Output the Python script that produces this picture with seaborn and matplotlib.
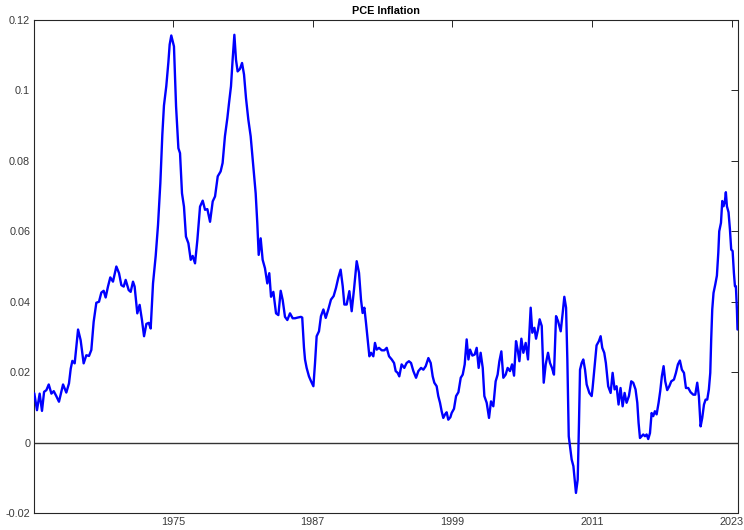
import matplotlib
matplotlib.use("Agg")
import matplotlib.pyplot as plt
import seaborn as sns
import pandas as pd

years = [
    1963.08, 1963.31, 1963.54, 1963.74, 1963.92, 1964.12, 1964.32, 1964.55, 1964.75, 1964.97,
    1965.20, 1965.55, 1965.83, 1966.06, 1966.21, 1966.35, 1966.55, 1966.84, 1967.06, 1967.32,
    1967.55, 1967.78, 1967.98, 1968.18, 1968.41, 1968.64, 1968.84, 1969.04, 1969.21, 1969.41,
    1969.61, 1969.84, 1970.13, 1970.36, 1970.56, 1970.76, 1970.93, 1971.19, 1971.36, 1971.56,
    1971.70, 1971.93, 1972.13, 1972.33, 1972.51, 1972.71, 1972.91, 1973.08, 1973.28, 1973.51,
    1973.71, 1973.91, 1974.08, 1974.22, 1974.42, 1974.60, 1974.71, 1974.85, 1975.08, 1975.26,
    1975.46, 1975.60, 1975.77, 1975.94, 1976.11, 1976.32, 1976.52, 1976.69, 1976.89, 1977.09,
    1977.32, 1977.55, 1977.75, 1977.95, 1978.18, 1978.41, 1978.61, 1978.84, 1979.09, 1979.26,
    1979.46, 1979.67, 1979.81, 1979.98, 1980.12, 1980.27, 1980.41, 1980.55, 1980.75, 1980.93,
    1981.10, 1981.27, 1981.47, 1981.67, 1981.90, 1982.10, 1982.24, 1982.36, 1982.53, 1982.70,
    1982.90, 1983.10, 1983.27, 1983.42, 1983.62, 1983.85, 1984.05, 1984.25, 1984.42, 1984.62,
    1984.82, 1985.05, 1985.28, 1985.48, 1985.71, 1985.99, 1986.10, 1986.25, 1986.34, 1986.48,
    1986.68, 1986.86, 1987.06, 1987.20, 1987.34, 1987.54, 1987.71, 1987.92, 1988.12, 1988.34,
    1988.57, 1988.80, 1989.00, 1989.20, 1989.40, 1989.58, 1989.72, 1989.92, 1990.15, 1990.35,
    1990.55, 1990.78, 1990.98, 1991.15, 1991.29, 1991.44, 1991.58, 1991.72, 1991.87, 1992.01,
    1992.21, 1992.35, 1992.50, 1992.70, 1992.93, 1993.16, 1993.36, 1993.56, 1993.79, 1993.99,
    1994.13, 1994.30, 1994.44, 1994.64, 1994.87, 1995.07, 1995.27, 1995.45, 1995.65, 1995.88,
    1996.08, 1996.31, 1996.51, 1996.71, 1996.94, 1997.14, 1997.31, 1997.45, 1997.65, 1997.79,
    1997.94, 1998.08, 1998.22, 1998.37, 1998.51, 1998.65, 1998.83, 1998.94, 1999.14, 1999.32,
    1999.52, 1999.72, 1999.89, 2000.06, 2000.23, 2000.38, 2000.52, 2000.72, 2000.92, 2001.09,
    2001.26, 2001.43, 2001.61, 2001.75, 2001.95, 2002.15, 2002.32, 2002.52, 2002.72, 2002.89,
    2003.04, 2003.21, 2003.38, 2003.58, 2003.75, 2003.95, 2004.13, 2004.30, 2004.47, 2004.61,
    2004.76, 2004.93, 2005.10, 2005.30, 2005.50, 2005.62, 2005.73, 2005.87, 2006.05, 2006.19,
    2006.36, 2006.50, 2006.68, 2006.85, 2007.02, 2007.22, 2007.39, 2007.56, 2007.73, 2007.91,
    2008.08, 2008.31, 2008.48, 2008.62, 2008.77, 2008.88, 2009.00, 2009.11, 2009.25, 2009.40,
    2009.51, 2009.62, 2009.77, 2009.88, 2009.97, 2010.11, 2010.25, 2010.40, 2010.54, 2010.77,
    2010.97, 2011.05, 2011.22, 2011.39, 2011.59, 2011.74, 2011.88, 2012.05, 2012.19, 2012.39,
    2012.60, 2012.77, 2012.94, 2013.11, 2013.28, 2013.45, 2013.63, 2013.80, 2013.97, 2014.17,
    2014.37, 2014.54, 2014.74, 2014.89, 2015.00, 2015.12, 2015.26, 2015.40, 2015.55, 2015.69,
    2015.83, 2015.98, 2016.12, 2016.26, 2016.40, 2016.55, 2016.72, 2016.86, 2017.00, 2017.15,
    2017.29, 2017.46, 2017.64, 2017.81, 2018.04, 2018.21, 2018.38, 2018.55, 2018.72, 2018.90,
    2019.07, 2019.27, 2019.47, 2019.70, 2019.87, 2020.04, 2020.18, 2020.33, 2020.47, 2020.62,
    2020.76, 2020.90, 2021.04, 2021.16, 2021.24, 2021.33, 2021.44, 2021.59, 2021.73, 2021.85,
    2021.93, 2022.08, 2022.19, 2022.30, 2022.42, 2022.50, 2022.59, 2022.73, 2022.85, 2022.96,
    2023.08, 2023.19, 2023.28, 2023.36, 2023.45, 2023.50,
]

inflation = [
    0.0140, 0.0092, 0.0139, 0.0090, 0.0144, 0.0149, 0.0165, 0.0139, 0.0146, 0.0132,
    0.0116, 0.0165, 0.0142, 0.0168, 0.0210, 0.0232, 0.0225, 0.0321, 0.0291, 0.0225,
    0.0248, 0.0246, 0.0263, 0.0343, 0.0397, 0.0400, 0.0426, 0.0431, 0.0412, 0.0443,
    0.0469, 0.0457, 0.0500, 0.0481, 0.0447, 0.0443, 0.0462, 0.0433, 0.0428, 0.0457,
    0.0443, 0.0367, 0.0391, 0.0348, 0.0302, 0.0337, 0.0340, 0.0324, 0.0452, 0.0530,
    0.0618, 0.0737, 0.0874, 0.0957, 0.1012, 0.1080, 0.1130, 0.1156, 0.1125, 0.0955,
    0.0836, 0.0822, 0.0708, 0.0670, 0.0585, 0.0566, 0.0519, 0.0530, 0.0509, 0.0575,
    0.0670, 0.0687, 0.0661, 0.0663, 0.0627, 0.0685, 0.0699, 0.0756, 0.0770, 0.0794,
    0.0870, 0.0922, 0.0964, 0.1012, 0.1087, 0.1158, 0.1087, 0.1054, 0.1061, 0.1078,
    0.1045, 0.0978, 0.0917, 0.0870, 0.0784, 0.0708, 0.0623, 0.0533, 0.0580, 0.0519,
    0.0495, 0.0452, 0.0481, 0.0414, 0.0428, 0.0367, 0.0362, 0.0431, 0.0405, 0.0357,
    0.0348, 0.0367, 0.0353, 0.0353, 0.0355, 0.0357, 0.0355, 0.0270, 0.0236, 0.0212,
    0.0188, 0.0174, 0.0160, 0.0226, 0.0302, 0.0316, 0.0359, 0.0378, 0.0354, 0.0378,
    0.0406, 0.0416, 0.0439, 0.0468, 0.0491, 0.0444, 0.0392, 0.0392, 0.0430, 0.0373,
    0.0435, 0.0515, 0.0482, 0.0406, 0.0368, 0.0383, 0.0340, 0.0293, 0.0245, 0.0255,
    0.0245, 0.0283, 0.0264, 0.0269, 0.0262, 0.0262, 0.0269, 0.0245, 0.0236, 0.0226,
    0.0203, 0.0198, 0.0188, 0.0222, 0.0212, 0.0226, 0.0231, 0.0226, 0.0203, 0.0184,
    0.0203, 0.0212, 0.0207, 0.0217, 0.0240, 0.0226, 0.0188, 0.0170, 0.0160, 0.0132,
    0.0113, 0.0089, 0.0070, 0.0080, 0.0086, 0.0065, 0.0072, 0.0084, 0.0096, 0.0132,
    0.0143, 0.0184, 0.0193, 0.0222, 0.0293, 0.0236, 0.0264, 0.0247, 0.0250, 0.0269,
    0.0212, 0.0255, 0.0212, 0.0132, 0.0113, 0.0070, 0.0117, 0.0103, 0.0174, 0.0193,
    0.0231, 0.0259, 0.0184, 0.0193, 0.0212, 0.0203, 0.0222, 0.0190, 0.0288, 0.0264,
    0.0231, 0.0295, 0.0255, 0.0283, 0.0236, 0.0316, 0.0383, 0.0312, 0.0326, 0.0295,
    0.0321, 0.0350, 0.0331, 0.0170, 0.0222, 0.0255, 0.0226, 0.0212, 0.0193, 0.0359,
    0.0345, 0.0316, 0.0368, 0.0414, 0.0383, 0.0236, 0.0018, -0.0010, -0.0048, -0.0067,
    -0.0105, -0.0143, -0.0105, 0.0056, 0.0207, 0.0226, 0.0236, 0.0207, 0.0165, 0.0141,
    0.0132, 0.0155, 0.0217, 0.0276, 0.0288, 0.0302, 0.0269, 0.0255, 0.0226, 0.0160,
    0.0141, 0.0198, 0.0151, 0.0160, 0.0108, 0.0155, 0.0103, 0.0141, 0.0113, 0.0132,
    0.0174, 0.0170, 0.0151, 0.0113, 0.0056, 0.0013, 0.0018, 0.0023, 0.0018, 0.0023,
    0.0010, 0.0027, 0.0084, 0.0075, 0.0089, 0.0080, 0.0113, 0.0146, 0.0188, 0.0217,
    0.0174, 0.0149, 0.0160, 0.0174, 0.0179, 0.0198, 0.0222, 0.0233, 0.0207, 0.0198,
    0.0155, 0.0155, 0.0143, 0.0136, 0.0136, 0.0170, 0.0132, 0.0046, 0.0070, 0.0108,
    0.0122, 0.0122, 0.0151, 0.0198, 0.0293, 0.0378, 0.0425, 0.0449, 0.0474, 0.0539,
    0.0600, 0.0624, 0.0686, 0.0671, 0.0686, 0.0711, 0.0671, 0.0654, 0.0605, 0.0548,
    0.0544, 0.0482, 0.0444, 0.0444, 0.0378, 0.0321,
]

x_ticks = [1975, 1987, 1999, 2011, 2023]
x_tick_labels = ["1975", "1987", "1999", "2011", "2023"]
y_ticks = [-0.02, 0.0, 0.02, 0.04, 0.06, 0.08, 0.10, 0.12]
y_tick_labels = ["-0.02", "0", "0.02", "0.04", "0.06", "0.08", "0.1", "0.12"]
title = "PCE Inflation"

sns.set_style("white")
plt.rcParams["font.family"] = ["Liberation Sans", "DejaVu Sans"]

df = pd.DataFrame({"year": years, "inflation": inflation})

fig = plt.figure(figsize=(7.44, 5.30), dpi=100)
ax = fig.add_axes([34.3 / 744, 1 - 513 / 530, (737.5 - 34.3) / 744, (513 - 20) / 530])

ax.axhline(0, color="#333333", lw=1.0, zorder=1)
sns.lineplot(data=df, x="year", y="inflation", ax=ax, color="#0000ff",
             lw=1.7, estimator=None, sort=False, zorder=3)

ax.set_xlim(years[0], years[-1])
ax.set_ylim(-0.02, 0.12)
ax.set_xticks(x_ticks)
ax.set_xticklabels(x_tick_labels)
ax.set_yticks(y_ticks)
ax.set_yticklabels(y_tick_labels)
ax.set_xlabel("")
ax.set_ylabel("")
ax.set_title(title, fontsize=7.8, fontweight="bold", color="#000000", pad=4)

ax.tick_params(axis="both", which="both", direction="in", length=5, width=0.7,
               colors="#262626", labelsize=7.8, top=True, right=True,
               labeltop=False, labelright=False, pad=3)
for lbl in ax.get_xticklabels() + ax.get_yticklabels():
    lbl.set_color("#3a3a3a")
for s in ax.spines.values():
    s.set_visible(True)
    s.set_color("#262626")
    s.set_linewidth(0.8)
ax.grid(False)
ax.set_facecolor("white")
fig.patch.set_facecolor("white")

fig.savefig("out.png", dpi=100)
